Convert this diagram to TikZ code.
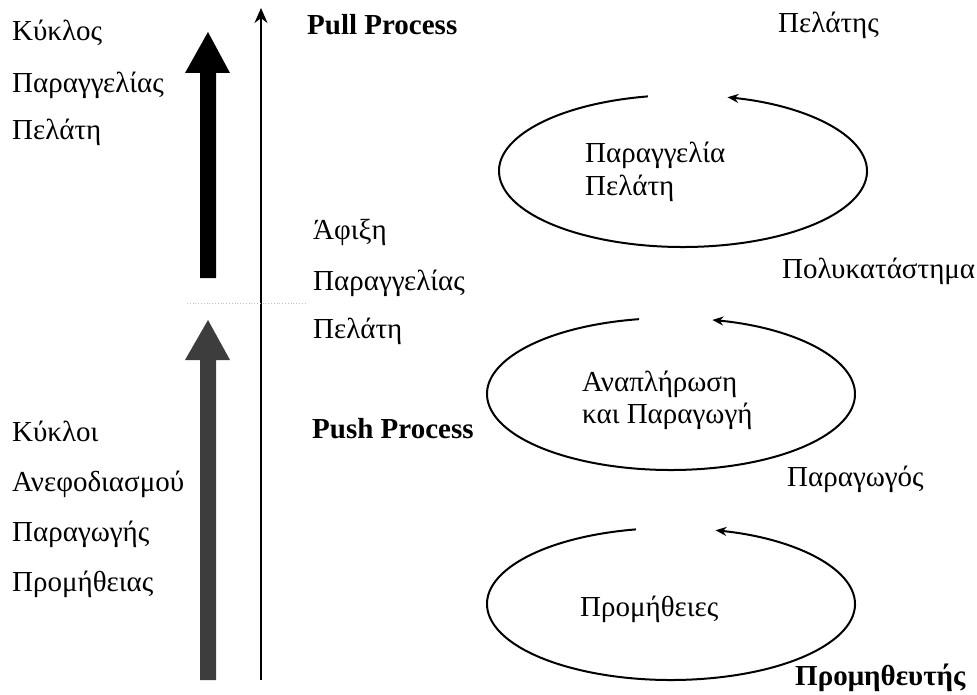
\documentclass[tikz,border=0pt]{standalone}
\usepackage{fontspec}
\setmainfont{Liberation Serif}
\usetikzlibrary{arrows.meta}
\begin{document}
\begin{tikzpicture}[x=1pt,y=1pt,
  lbl/.style={font=\fontsize{29}{29}\selectfont, inner sep=0pt, anchor=base west},
  blbl/.style={lbl, font=\fontsize{29}{29}\selectfont\bfseries},
  cyc/.style={line width=2pt, -{Stealth[length=11pt,width=9pt]}},
  axis/.style={line width=1.6pt, -{Stealth[length=15pt,width=13pt]}}
]
\useasboundingbox (0,0) rectangle (977,-695);

% thick arrows
\fill[black] (200,-278) -- (200,-73) -- (185,-73) -- (208,-32) -- (230,-73) -- (216,-73) -- (216,-278) -- cycle;
\fill[black!76] (200,-680) -- (200,-360) -- (185,-360) -- (208,-320) -- (230,-360) -- (216,-360) -- (216,-680) -- cycle;

% thin axis
\coordinate (axB) at (261,-680);
\coordinate (axT) at (261,-8);
\draw[axis] (axB) -- (axT);

% faint divider
\coordinate (dvL) at (187,-303);
\coordinate (dvR) at (307,-303);
\draw[black!25, line width=0.8pt, dotted] (dvL) -- (dvR);

% left labels
\node[lbl] (k1) at (12,-41) {Κύκλος};
\node[lbl] (k2) at (12,-93) {Παραγγελίας};
\node[lbl] (k3) at (12,-140) {Πελάτη};
\node[lbl] (r1) at (12,-441) {Κύκλοι};
\node[lbl] (r2) at (12,-491) {Ανεφοδιασμού};
\node[lbl] (r3) at (12,-541) {Παραγωγής};
\node[lbl] (r4) at (12,-591) {Προμήθειας};

% middle labels
\node[blbl] (pull) at (307,-35) {Pull Process};
\node[lbl] (a1) at (313,-240) {Άφιξη};
\node[lbl] (a2) at (313,-290) {Παραγγελίας};
\node[lbl] (a3) at (313,-338) {Πελάτη};
\node[blbl] (push) at (312,-438) {Push Process};

% right labels
\node[lbl] (cust) at (778,-33) {Πελάτης};
\node[lbl] (dept) at (782,-278) {Πολυκατάστημα};
\node[lbl] (prod) at (787,-486) {Παραγωγός};
\node[blbl] (supp) at (795,-685) {Προμηθευτής};

% cycles
\coordinate (c1) at (683,-171);
\coordinate (c2) at (671,-394);
\coordinate (c3) at (671,-604);
\draw[cyc] ([shift={(101:184 and 76)}]c1) arc[start angle=101, end angle=436, x radius=184, y radius=76];
\draw[cyc] ([shift={(100:184 and 76)}]c2) arc[start angle=100, end angle=437, x radius=184, y radius=76];
\draw[cyc] ([shift={(101:184 and 76)}]c3) arc[start angle=101, end angle=436, x radius=184, y radius=76];

\node[lbl] (e1a) at (585,-163) {Παραγγελία};
\node[lbl] (e1b) at (585,-196) {Πελάτη};
\node[lbl] (e2a) at (582,-391) {Αναπλήρωση};
\node[lbl] (e2b) at (582,-423) {και Παραγωγή};
\node[lbl] (e3a) at (580,-616) {Προμήθειες};
\end{tikzpicture}
\end{document}
